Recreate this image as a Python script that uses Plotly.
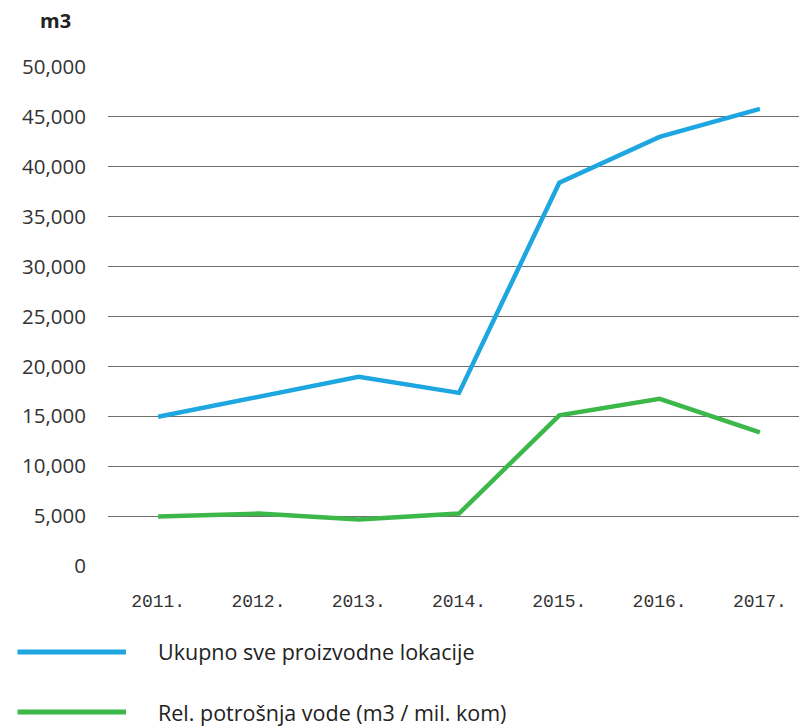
import plotly.graph_objects as go

years = ["2011.", "2012.", "2013.", "2014.", "2015.", "2016.", "2017."]
ukupno = [14950, 17000, 18950, 17350, 38400, 43000, 45800]
relativna = [4950, 5250, 4650, 5250, 15100, 16750, 13400]
series_names = ["Ukupno sve proizvodne lokacije", "Rel. potrošnja vode (m3 / mil. kom)"]
colors = ["#1ea6e0", "#3cb84a"]
y_ticks = [0, 5000, 10000, 15000, 20000, 25000, 30000, 35000, 40000, 45000, 50000]

fig = go.Figure()
for name, vals, col in zip(series_names, [ukupno, relativna], colors):
    fig.add_trace(go.Scatter(x=years, y=vals, mode="lines", name=name,
                             line=dict(color=col, width=4.5), showlegend=False))

fig.update_layout(
    width=799, height=726,
    margin=dict(l=108, r=0, t=67, b=160),
    paper_bgcolor="white", plot_bgcolor="white",
    xaxis=dict(type="category", range=[-0.5, 6.39], showgrid=False, showline=False,
               ticks="", tickfont=dict(family="Liberation Mono", size=18, color="#333"),
               ticklabelstandoff=22),
    yaxis=dict(range=[0, 50000], tickvals=y_ticks,
               ticktext=[f"{v:,}" for v in y_ticks],
               showgrid=True, gridcolor="#6e6e6e", gridwidth=1, zeroline=False,
               showline=False, ticks="",
               tickfont=dict(family="Open Sans", size=20.5, color="#333"),
               ticklabelstandoff=21),
)

fig.add_annotation(text="<b>m3</b>", xref="paper", yref="paper", x=-0.05, y=1.0,
                   xanchor="right", yanchor="bottom", yshift=31, showarrow=False,
                   font=dict(family="Open Sans", size=20, color="#222"))

legend_y = [-0.1723, -0.2926]
for name, col, ly in zip(series_names, colors, legend_y):
    fig.add_shape(type="line", xref="paper", yref="paper",
                  x0=-0.131, x1=0.026, y0=ly, y1=ly,
                  line=dict(color=col, width=5))
    fig.add_annotation(text=name, xref="paper", yref="paper", x=0.069, y=ly,
                       xanchor="left", yanchor="middle", showarrow=False,
                       font=dict(family="Open Sans", size=21.5, color="#222"))

fig.write_html("out.html", config={"displayModeBar": False})
with open("out.html", encoding="utf-8") as f:
    html = f.read()
html = html.replace("<head>", "<head><style>html,body{margin:0;padding:0;overflow:hidden}</style>", 1)
with open("out.html", "w", encoding="utf-8") as f:
    f.write(html)
